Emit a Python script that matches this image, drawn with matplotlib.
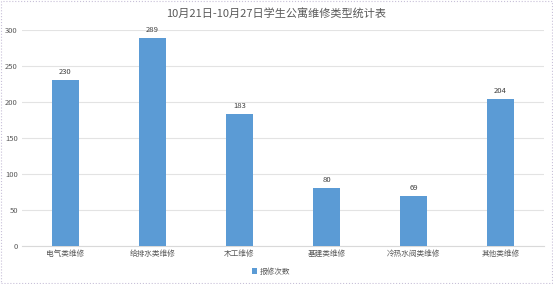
import matplotlib.pyplot as plt
from matplotlib.patches import Rectangle

plt.rcParams['font.family'] = ['Noto Sans CJK SC', 'DejaVu Sans']

categories = ["电气类维修", "给排水类维修", "木工维修", "基建类维修", "冷热水阀类维修", "其他类维修"]
counts = [230, 289, 183, 80, 69, 204]
yticks = [0, 50, 100, 150, 200, 250, 300]

fig = plt.figure(figsize=(5.53, 2.84), dpi=100)
ax = fig.add_axes([0.0398, 0.134, 0.944, 0.76])

bars = ax.bar(categories, counts, width=0.31, color="#5B9BD5", label="报修次数", zorder=3)
for b, v in zip(bars, counts):
    ax.text(b.get_x() + b.get_width() / 2, v + 6, str(v), ha="center", va="bottom",
            fontsize=5.5, color="#404040")

ax.set_ylim(0, 300)
ax.set_xlim(-0.5, len(categories) - 0.5)
ax.set_yticks(yticks)
ax.tick_params(axis="both", length=0, labelsize=5.5, labelcolor="#595959", pad=3)
ax.grid(axis="y", color="#e3e3e3", linewidth=0.8, zorder=0)
for s in ["top", "right", "left"]:
    ax.spines[s].set_visible(False)
ax.spines["bottom"].set_color("#d9d9d9")
ax.spines["bottom"].set_linewidth(0.8)

fig.text(0.5, 0.952, "10月21日-10月27日学生公寓维修类型统计表", ha="center", va="center",
         fontsize=8, color="#595959")

fig.legend(loc="center", bbox_to_anchor=(0.49, 0.043), frameon=False, fontsize=5.5,
           labelcolor="#595959", handlelength=0.7, handleheight=0.7, handletextpad=0.4)

fig.patches.append(Rectangle((0.002, 0.004), 0.996, 0.992, transform=fig.transFigure,
                             fill=False, edgecolor="#c8c0d8", linewidth=0.8, linestyle=":"))

fig.savefig("out.png", dpi=100)
